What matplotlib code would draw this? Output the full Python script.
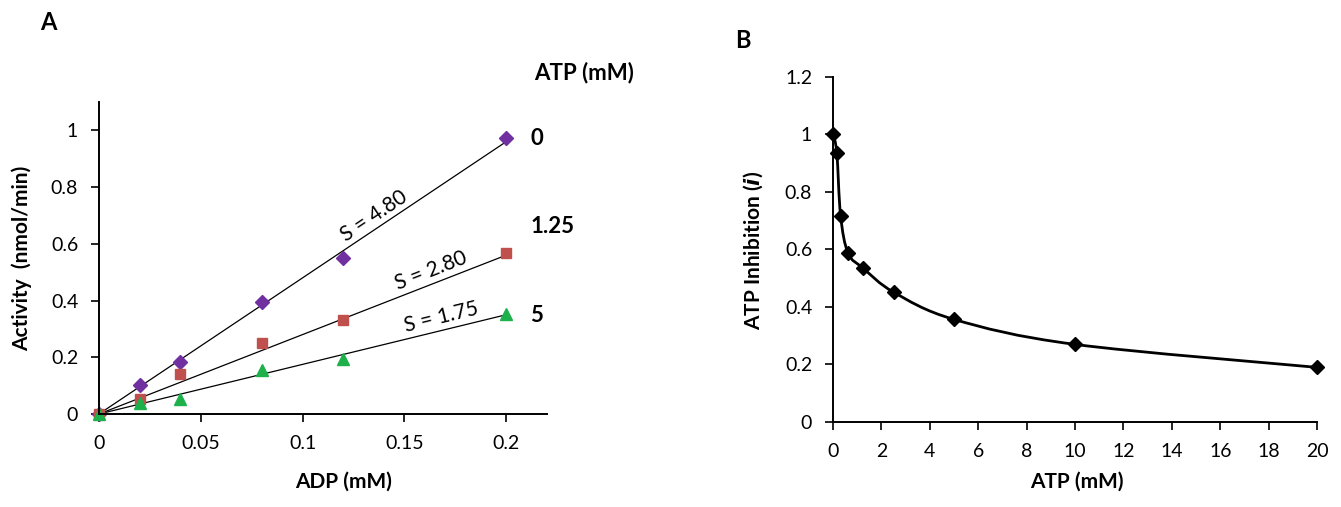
import matplotlib
matplotlib.use("Agg")
import matplotlib.pyplot as plt
import numpy as np
from matplotlib.path import Path
from matplotlib.patches import PathPatch

plt.rcParams['font.family'] = ['Lato', 'DejaVu Sans']

# panel A data
adp = [0, 0.02, 0.04, 0.08, 0.12, 0.2]
act_0 = [0, 0.103, 0.182, 0.395, 0.549, 0.972]
act_125 = [0, 0.053, 0.142, 0.251, 0.331, 0.567]
act_5 = [0, 0.040, 0.053, 0.154, 0.195, 0.351]
slopes = [4.80, 2.80, 1.75]
atp_labels = ['0', '1.25', '5']

# panel B data
atp = [0, 0.156, 0.3125, 0.625, 1.25, 2.5, 5, 10, 20]
inhib = [1.0, 0.936, 0.717, 0.586, 0.534, 0.451, 0.356, 0.269, 0.189]

fig = plt.figure(figsize=(13.41, 5.07), dpi=100)
axA = fig.add_axes([0.0738, 0.1834, 0.3340, 0.6154])
axB = fig.add_axes([0.6212, 0.1683, 0.3610, 0.6799])

for ax in (axA, axB):
    for s in ['top', 'right']:
        ax.spines[s].set_visible(False)
    for s in ['left', 'bottom']:
        ax.spines[s].set_linewidth(1.4)
    ax.tick_params(direction='out', length=6, width=1.2, labelsize=14, pad=9)

# ---- A ----
xl = np.array([0, 0.2])
for s in slopes:
    axA.plot(xl, s * xl, color='black', lw=0.9)

axA.plot(adp, act_0, 'D', color='#7030A0', ms=7.5, ls='none', clip_on=False)
axA.plot(adp, act_125, 's', color='#C0504D', ms=7.5, ls='none', clip_on=False)
axA.plot(adp, act_5, '^', color='#1DB04B', ms=9, ls='none', clip_on=False)

axA.set_xlim(0, 0.22)
axA.set_ylim(0, 1.1)
axA.set_xticks([0, 0.05, 0.1, 0.15, 0.2])
axA.set_xticklabels(['0', '0.05', '0.1', '0.15', '0.2'])
axA.set_yticks([0, 0.2, 0.4, 0.6, 0.8, 1])
axA.set_yticklabels(['0', '0.2', '0.4', '0.6', '0.8', '1'])
axA.set_xlabel('ADP (mM)', fontsize=15, fontweight='bold')
axA.set_ylabel('Activity  (nmol/min)', fontsize=15, fontweight='bold')
axA.xaxis.set_label_coords(0.545, -0.186)
axA.yaxis.set_label_coords(-0.15, 0.5)

# slope labels, rotated along their lines
lab_x = [0.135, 0.163, 0.168]
for s, x0 in zip(slopes, lab_x):
    p1 = axA.transData.transform((0, 0))
    p2 = axA.transData.transform((0.2, 0.2 * s))
    ang = np.degrees(np.arctan2(p2[1] - p1[1], p2[0] - p1[0]))
    axA.annotate('S = %.2f' % s, xy=(x0, s * x0), xytext=(0, 10),
                 textcoords='offset points', ha='center', va='center',
                 rotation=ang, rotation_mode='anchor', fontsize=15)

axA.text(0.971, 1.093, 'ATP (mM)', transform=axA.transAxes,
         fontsize=16, fontweight='bold', ha='left', va='center')
for lab, y in zip(atp_labels, [0.972, 0.66, 0.348]):
    axA.text(0.2118, y, lab, fontsize=16, fontweight='bold', ha='left', va='center')

fig.text(0.030, 0.955, 'A', fontsize=17, fontweight='bold', ha='left', va='center')

# ---- B ----
# smooth line through the points (Excel style bezier)
P = np.column_stack([atp, inhib])
verts = [tuple(P[0])]
codes = [Path.MOVETO]
for i in range(len(P) - 1):
    p0 = P[i - 1] if i > 0 else P[i]
    p3 = P[i + 2] if i + 2 < len(P) else P[i + 1]
    c1 = P[i] + (P[i + 1] - p0) / 6
    c2 = P[i + 1] - (p3 - P[i]) / 6
    verts += [tuple(c1), tuple(c2), tuple(P[i + 1])]
    codes += [Path.CURVE4, Path.CURVE4, Path.CURVE4]
axB.add_patch(PathPatch(Path(verts, codes), fill=False, lw=2, ec='black'))
axB.plot(atp, inhib, 'D', color='black', ms=7.5, ls='none', clip_on=False)

axB.set_xlim(0, 20)
axB.set_ylim(0, 1.2)
axB.set_xticks(np.arange(0, 21, 2))
axB.set_yticks([0, 0.2, 0.4, 0.6, 0.8, 1, 1.2])
axB.set_yticklabels(['0', '0.2', '0.4', '0.6', '0.8', '1', '1.2'])
axB.set_xlabel('ATP (mM)', fontsize=15, fontweight='bold')
axB.set_ylabel(r'ATP Inhibition ($\boldsymbol{i}$)', fontsize=15, fontweight='bold')
axB.xaxis.set_label_coords(0.504, -0.146)
axB.yaxis.set_label_coords(-0.14, 0.498)

fig.text(0.548, 0.92, 'B', fontsize=17, fontweight='bold', ha='left', va='center')

fig.savefig('out.png', dpi=100)
